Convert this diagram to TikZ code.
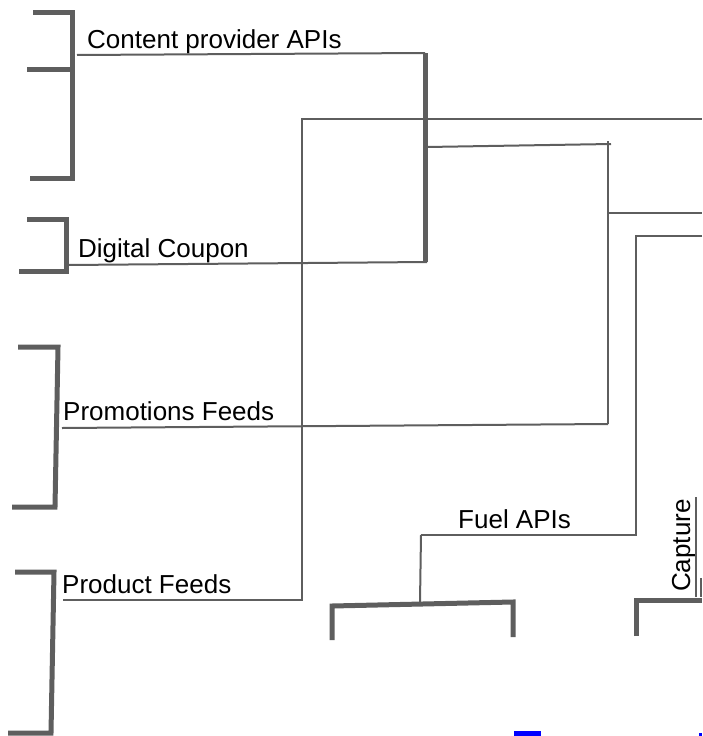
\documentclass[tikz,border=0pt]{standalone}
\usepackage{fontspec}
\setmainfont{Liberation Sans}
\definecolor{ln}{HTML}{5E5E5E}
\definecolor{bl}{HTML}{0000FF}
\tikzset{
  thinln/.style={draw=ln, line width=2pt},
  thickln/.style={draw=ln, line width=5pt},
  lbl/.style={anchor=base west, inner sep=0pt, font=\fontsize{26}{30}\selectfont, text=black},
}
\begin{document}
\begin{tikzpicture}[x=1pt,y=-1pt]
\useasboundingbox (0,0) rectangle (702,736);

% labels
\node[lbl] (cp) at (87,48) {Content provider APIs};
\node[lbl] (dc) at (78,257) {Digital Coupon};
\node[lbl] (pf) at (63,420) {Promotions Feeds};
\node[lbl] (prf) at (62,593) {Product Feeds};
\node[lbl] (fu) at (458,528) {Fuel APIs};
\node[lbl, rotate=90] (cap) at (690,592) {Capture};

% coordinates
\coordinate (b1a) at (33,12);  \coordinate (b1b) at (72,12);  \coordinate (b1c) at (72,178); \coordinate (b1d) at (30,178);
\coordinate (b1m1) at (27,69); \coordinate (b1m2) at (72,69);
\coordinate (b2a) at (27,219); \coordinate (b2b) at (66,219); \coordinate (b2c) at (66,271); \coordinate (b2d) at (19,271);
\coordinate (b3a) at (18,347); \coordinate (b3b) at (58,347); \coordinate (b3c) at (55,507); \coordinate (b3d) at (12,507);
\coordinate (b4a) at (15,572); \coordinate (b4b) at (54,572); \coordinate (b4c) at (51,733); \coordinate (b4d) at (8,733);

\coordinate (cpL) at (77,55);   \coordinate (cpR) at (425,53);
\coordinate (hubT) at (425,53); \coordinate (hubB) at (425,262);
\coordinate (dcL) at (68,265);  \coordinate (dcR) at (427,262);
\coordinate (topL) at (302,119); \coordinate (topR) at (702,119);
\coordinate (m1L) at (427,147); \coordinate (m1R) at (611,144);
\coordinate (vT) at (608,141);  \coordinate (vB) at (608,424);
\coordinate (v2L) at (608,213); \coordinate (v2R) at (702,213);
\coordinate (pfL) at (62,428);  \coordinate (pfR) at (608,424);
\coordinate (prL) at (63,600);  \coordinate (prR) at (302,600);
\coordinate (fuA) at (702,236); \coordinate (fuB) at (636,236); \coordinate (fuC) at (636,535); \coordinate (fuD) at (421,535);
\coordinate (fuE) at (420,602);
\coordinate (fb1) at (332,640); \coordinate (fb2) at (332,606); \coordinate (fb3) at (513,602); \coordinate (fb4) at (513,637);
\coordinate (cb1) at (636,636); \coordinate (cb2) at (636,600); \coordinate (cb3) at (702,600);
\coordinate (capT) at (696,497); \coordinate (capB) at (696,597);
\coordinate (edgeT) at (701,578); \coordinate (edgeB) at (701,597);

% brackets
\draw[thickln] (b1a) -- (b1b) -- (b1c) -- (b1d);
\draw[thickln] (b1m1) -- (b1m2);
\draw[thickln] (b2a) -- (b2b) -- (b2c) -- (b2d);
\draw[thickln] (b3a) -- (b3b) -- (b3c) -- (b3d);
\draw[thickln] (b4a) -- (b4b) -- (b4c) -- (b4d);
\draw[thickln] (hubT) -- (hubB);
\draw[thickln] (fb1) -- (fb2) -- (fb3) -- (fb4);
\draw[thickln] (cb1) -- (cb2) -- (cb3);

% connectors
\draw[thinln] (cpL) -- (cpR);
\draw[thinln] (dcL) -- (dcR);
\draw[thinln] (prL) -- (prR) -- (topL) -- (topR);
\draw[thinln] (m1L) -- (m1R);
\draw[thinln] (vT) -- (vB);
\draw[thinln] (v2L) -- (v2R);
\draw[thinln] (pfL) -- (pfR);
\draw[thinln] (fuA) -- (fuB) -- (fuC) -- (fuD);
\draw[thinln] (fuD) -- (fuE);
\draw[thinln] (capT) -- (capB);
\draw[thinln] (edgeT) -- (edgeB);

% blue marks at the bottom edge
\fill[bl] (514,731) rectangle (541,736);
\fill[bl] (699,733) rectangle (702,736);
\end{tikzpicture}
\end{document}
